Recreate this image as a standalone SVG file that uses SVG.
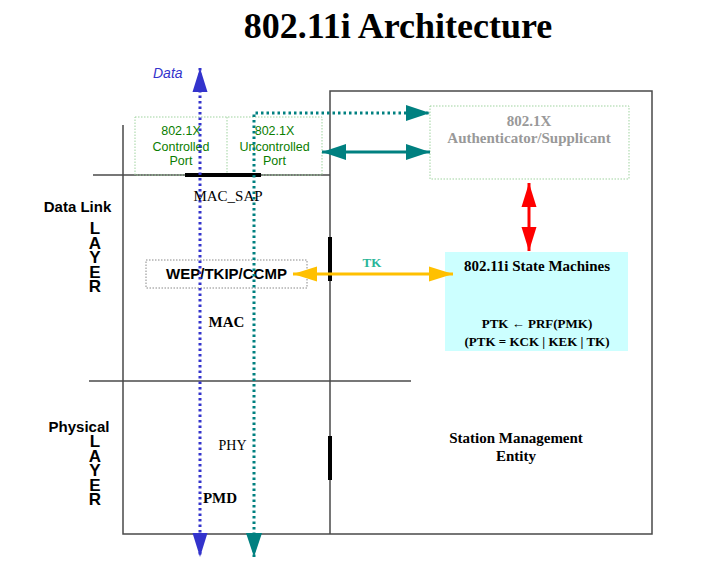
<svg xmlns="http://www.w3.org/2000/svg" width="728" height="574" viewBox="0 0 728 574">
<style>
.frame{stroke:#4a4a4a;stroke-width:1.5;fill:none}
.bar{stroke:#000;stroke-width:4;fill:none}
.serif{font-family:"Liberation Serif","Times New Roman",serif}
.sans{font-family:"Liberation Sans",Arial,sans-serif}
.b{font-weight:bold}
.port{font-family:"Liberation Sans",Arial,sans-serif;font-size:12.5px;fill:#0a7d00;text-anchor:middle}
.greenbox{fill:none;stroke:#9fd39f;stroke-width:1;stroke-dasharray:1.5 1.5}
.vert{font-family:"Liberation Sans",Arial,sans-serif;font-weight:bold;font-size:17px;writing-mode:vertical-rl;text-orientation:upright;letter-spacing:-4.5px}
</style>
<defs>
<marker id="hBlue" markerUnits="userSpaceOnUse" markerWidth="24" markerHeight="16" refX="24" refY="8" orient="auto-start-reverse" viewBox="0 0 24 16"><path d="M0,0.5 L24,8 L0,15.5 z" fill="#3333cc"/></marker>
<marker id="hTeal" markerUnits="userSpaceOnUse" markerWidth="24" markerHeight="16" refX="24" refY="8" orient="auto-start-reverse" viewBox="0 0 24 16"><path d="M0,0 L24,8 L0,16 z" fill="#008080"/></marker>
<marker id="hYel" markerUnits="userSpaceOnUse" markerWidth="24" markerHeight="16" refX="24" refY="8" orient="auto-start-reverse" viewBox="0 0 24 16"><path d="M0,0.5 L24,8 L0,15.5 z" fill="#ffc000"/></marker>
<marker id="hRed" markerUnits="userSpaceOnUse" markerWidth="24" markerHeight="16" refX="24" refY="8" orient="auto-start-reverse" viewBox="0 0 24 16"><path d="M0,0.5 L24,8 L0,15.5 z" fill="#ff0000"/></marker>
</defs>
<rect width="728" height="574" fill="#fff"/>

<g id="title"><text x="398" y="38" text-anchor="middle" class="serif b" font-size="36">802.11i Architecture</text></g>

<g id="frame">
<path class="frame" d="M123,125 V534 H652 V91 H330 V534"/>
<path class="frame" d="M93,175 H330"/>
<path class="frame" d="M89,381 H411"/>
</g>

<g id="ports">
<rect class="greenbox" x="135" y="117" width="187" height="58"/>
<line class="greenbox" x1="227" y1="117" x2="227" y2="175"/>
<text class="port" x="181" y="135">802.1X</text>
<text class="port" x="181" y="151">Controlled</text>
<text class="port" x="181" y="164.5">Port</text>
<text class="port" x="274.5" y="135">802.1X</text>
<text class="port" x="274.5" y="151">Uncontrolled</text>
<text class="port" x="274.5" y="164.5">Port</text>
</g>

<g id="auth">
<rect class="greenbox" x="430" y="106" width="199" height="73"/>
<text x="529" y="126" text-anchor="middle" class="serif b" font-size="15" fill="#999">802.1X</text>
<text x="529" y="143" text-anchor="middle" class="serif b" font-size="15" fill="#999">Authenticator/Supplicant</text>
</g>

<g id="wep">
<rect x="146" y="260" width="161" height="28" fill="none" stroke="#888" stroke-width="1" stroke-dasharray="1.5 1.5"/>
<text x="226.5" y="279" text-anchor="middle" class="sans b" font-size="15">WEP/TKIP/CCMP</text>
</g>

<g id="sm">
<rect x="445" y="252" width="183" height="99" fill="#ccffff"/>
<text x="537" y="271" text-anchor="middle" class="serif b" font-size="15">802.11i State Machines</text>
<text x="537" y="328" text-anchor="middle" class="serif b" font-size="13">PTK ← PRF(PMK)</text>
<text x="537" y="346" text-anchor="middle" class="serif b" font-size="13">(PTK = KCK | KEK | TK)</text>
</g>

<g id="sme">
<text x="516" y="443" text-anchor="middle" class="serif b" font-size="15">Station Management</text>
<text x="516" y="461" text-anchor="middle" class="serif b" font-size="15">Entity</text>
</g>

<g id="layers">
<text x="77.5" y="212" text-anchor="middle" class="sans b" font-size="15">Data Link</text>
<text x="95" y="219" class="vert">LAYER</text>
<text x="79" y="432" text-anchor="middle" class="sans b" font-size="15">Physical</text>
<text x="95" y="432" class="vert">LAYER</text>
</g>

<g id="bars">
<line class="bar" x1="185" y1="175" x2="261" y2="175"/>
<line class="bar" x1="330" y1="237" x2="330" y2="281"/>
<line class="bar" x1="330" y1="436" x2="330" y2="480"/>
</g>

<g id="connectors">
<line x1="200" y1="68" x2="200" y2="557" stroke="#3333cc" stroke-width="3" stroke-dasharray="2.5 3" marker-start="url(#hBlue)" marker-end="url(#hBlue)"/>
<path d="M254,557 V113 H430" fill="none" stroke="#008080" stroke-width="3" stroke-dasharray="2.5 3" marker-start="url(#hTeal)" marker-end="url(#hTeal)"/>
<line x1="322" y1="152" x2="430" y2="152" stroke="#008080" stroke-width="3" marker-start="url(#hTeal)" marker-end="url(#hTeal)"/>
<line x1="293" y1="274" x2="453" y2="274" stroke="#ffc000" stroke-width="3" marker-start="url(#hYel)" marker-end="url(#hYel)"/>
<line x1="529" y1="183" x2="529" y2="251" stroke="#ff0000" stroke-width="3" marker-start="url(#hRed)" marker-end="url(#hRed)"/>
<text x="372" y="267" text-anchor="middle" class="serif b" font-size="13" fill="#2ab598">TK</text>
</g>

<g id="labels">
<text x="153" y="78" class="sans" font-style="italic" font-size="14" fill="#3333cc">Data</text>
<text x="228" y="201" text-anchor="middle" class="serif" font-size="15">MAC_SAP</text>
<text x="226.5" y="327" text-anchor="middle" class="serif b" font-size="15">MAC</text>
<text x="232.5" y="450" text-anchor="middle" class="serif" font-size="14">PHY</text>
<text x="220" y="503" text-anchor="middle" class="serif b" font-size="15">PMD</text>
</g>
</svg>
